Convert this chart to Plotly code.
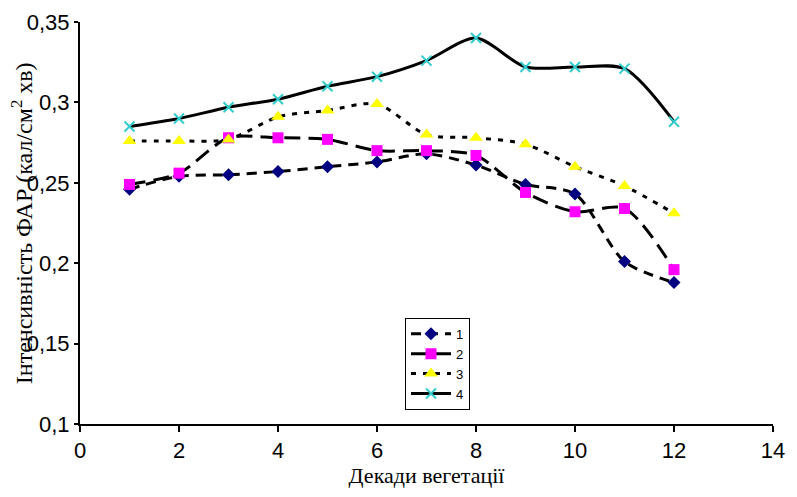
import plotly.graph_objects as go

x = [1, 2, 3, 4, 5, 6, 7, 8, 9, 10, 11, 12]
s1 = [0.246, 0.254, 0.255, 0.257, 0.260, 0.263, 0.268, 0.261, 0.249, 0.243, 0.201, 0.188]
s2 = [0.249, 0.256, 0.278, 0.278, 0.277, 0.270, 0.270, 0.267, 0.244, 0.232, 0.234, 0.196]
s3 = [0.276, 0.276, 0.277, 0.291, 0.295, 0.299, 0.280, 0.278, 0.274, 0.260, 0.248, 0.231]
s4 = [0.285, 0.290, 0.297, 0.302, 0.310, 0.316, 0.326, 0.340, 0.322, 0.322, 0.321, 0.288]
names = ["1", "2", "3", "4"]
ytickvals = [0.1, 0.15, 0.2, 0.25, 0.3, 0.35]
yticktext = ["0,1", "0,15", "0,2", "0,25", "0,3", "0,35"]
xtickvals = [0, 2, 4, 6, 8, 10, 12, 14]
ytitle = "Інтенсивність ФАР (кал/см<sup>2</sup> хв)"
xtitle = "Декади вегетації"

fig = go.Figure()
styles = [
    (s1, "diamond", "#000080", 10, "10px,7px"),
    (s2, "square", "#FF00FF", 11, "16px,8px"),
    (s3, "triangle-up", "#FFFF00", 12, "5px,7px"),
    (s4, "x-thin-open", "#33CCCC", 10, "solid"),
]
for (ys, sym, col, sz, dash), nm in zip(styles, names):
    fig.add_trace(go.Scatter(
        x=x, y=ys, name=nm, mode="lines+markers",
        line=dict(color="black", width=3, dash=dash, shape="spline", smoothing=0.8),
        marker=dict(symbol=sym, color=col, size=sz,
                    line=dict(color=col, width=2) if sym == "x-thin-open" else dict(width=0)),
    ))

fig.add_annotation(text=ytitle, xref="paper", yref="paper", x=-0.0835, y=0.5,
                   xanchor="center", yanchor="middle", textangle=-90, showarrow=False,
                   font=dict(family="Liberation Serif, Times New Roman", size=24, color="black"))

fig.update_layout(
    width=781, height=481,
    margin=dict(l=72, r=16, t=14, b=65, autoexpand=False),
    plot_bgcolor="white", paper_bgcolor="white",
    font=dict(family="Liberation Sans, Arial", size=22, color="black"),
    showlegend=True,
    legend=dict(x=0.469, y=0.264, xanchor="left", yanchor="top",
                bgcolor="white", bordercolor="black", borderwidth=1,
                font=dict(size=13, family="Liberation Sans, Arial"),
                tracegroupgap=0, itemwidth=40),
    xaxis=dict(range=[0, 14], tickvals=xtickvals, showgrid=False, zeroline=False,
               showline=True, linecolor="black", linewidth=2, ticks="outside",
               tickcolor="black", tickwidth=2, ticklen=6, automargin=False,
               title=dict(text=xtitle, font=dict(family="Liberation Serif, Times New Roman", size=22), standoff=4)),
    yaxis=dict(range=[0.1, 0.35], tickvals=ytickvals, ticktext=yticktext, showgrid=False,
               zeroline=False, showline=True, linecolor="black", linewidth=2, ticks="outside",
               tickcolor="black", tickwidth=2, ticklen=4, automargin=False),
)

fig.write_html("out.html")
